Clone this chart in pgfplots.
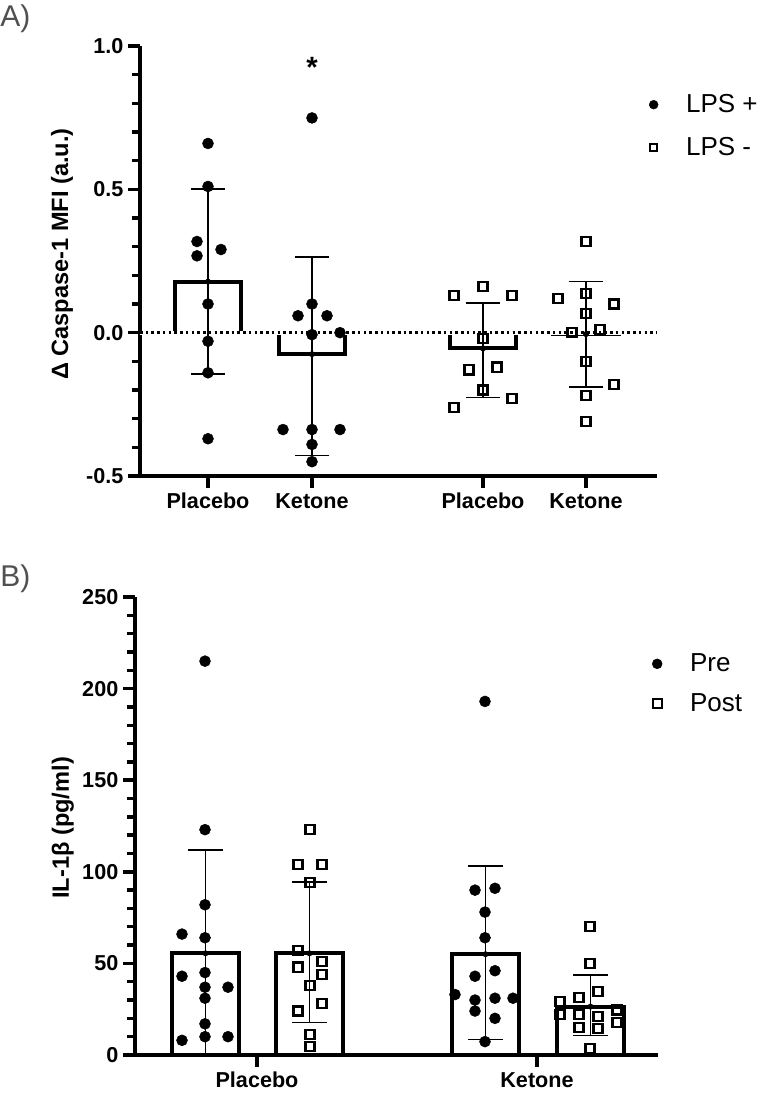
\documentclass[border=0pt]{standalone}
\usepackage{fontspec}
\setmainfont{Liberation Sans}
\usepackage{pgfplots}
\usepackage{pgfplotstable}
\pgfplotsset{compat=1.18}
\definecolor{lettergrey}{RGB}{80,80,80}

% ---------------- Panel A data ----------------
\pgfplotstableread{
x y
208 0.66
208 0.51
197 0.318
197 0.268
221 0.29
208 0.10
208 -0.03
208 -0.14
208 -0.37
312 0.749
312 0.10
298 0.059
327 0.059
312 -0.007
340 0.0
283 -0.338
312 -0.338
340 -0.338
312 -0.39
312 -0.45
}\Aplus
\pgfplotstableread{
x y
454 0.13
483 0.16
512 0.13
483 -0.02
469 -0.13
497 -0.12
483 -0.20
512 -0.23
454 -0.26
586 0.318
558 0.12
586 0.138
614 0.10
586 0.068
572 0.0
600 0.01
586 -0.10
614 -0.18
586 -0.22
586 -0.31
}\Aminus
\pgfplotstableread{
x y ep em
208 0.178 0.323 0.323
312 -0.075 0.339 0.353
483 -0.055 0.158 0.172
586 -0.005 0.183 0.185
}\Abars

% ---------------- Panel B data ----------------
\pgfplotstableread{
x y
205 215
205 123
205 82
182 66
205 64
182 43
205 45
205 37
228 37
205 31
205 17
205 10
182 8
228 10
485 193
475 90
495 91
485 78
485 64
475 43
495 46
455 33
475 30
495 31
513 31
475 24
495 20
485 7.3
}\Bpre
\pgfplotstableread{
x y
310 123
298 104
322 104
310 94
298 57
298 48
322 51
322 44
310 38
322 28
298 24
310 11
310 4.5
590 70
590 50
560 29
560 22
579 31.5
579 22
579 15
598 34.6
598 21
598 14.6
617 24.6
617 17.6
590 3.6
}\Bpost
\pgfplotstableread{
x y ep em
205.5 55.5 56.5 55.5
309.5 55.5 39 37.7
485.5 55 48.2 46.4
590.5 26.4 17.3 15.9
}\Bbars

\pgfplotsset{
  gpstyle/.style={
    scale only axis,
    clip=false,
    enlargelimits=false,
    axis x line=bottom,
    axis y line=left,
    axis line style={-, line width=3pt, black},
    tick align=outside,
    tick style={line width=2.6pt, black},
    major tick style={line width=2.6pt, black},
    minor tick style={line width=2.6pt, black},
    major tick length=9pt,
    minor tick length=6pt,
    xtick pos=bottom, ytick pos=left,
    ticklabel style={font=\fontsize{16.2}{18}\selectfont\bfseries},
    xticklabel style={text height=12pt, text depth=3pt},
    ylabel style={font=\fontsize{17.7}{19}\selectfont\bfseries},
    legend style={draw=none, fill=none, font=\fontsize{19.5}{21}\selectfont,
      row sep=13pt, /tikz/every odd column/.append style={column sep=19pt}},
    legend cell align=left,
  },
  dotmark/.style={only marks, mark=*, mark size=4.1pt, black, mark options={fill=black}},
  sqmark/.style={only marks, mark=square, mark size=3.4pt, black, mark options={line width=1.6pt, fill=none}},
  barsty/.style={ybar, bar width=#1, fill=white, draw=black, line width=3pt},
  errsty/.style={only marks, mark=none,
    error bars/.cd, y dir=both, y explicit,
    error bar style={line width=1.1pt, black, solid},
    error mark options={rotate=90, line width=1.1pt, mark size=13.1pt, black}},
}

\begin{document}
\begin{tikzpicture}
\useasboundingbox (0,0) rectangle (570pt,819.75pt);

\node[anchor=west, text=lettergrey, font=\fontsize{22.5}{24}\selectfont, inner sep=0pt] at (0pt,805.5pt) {A)};
\node[anchor=west, text=lettergrey, font=\fontsize{22.5}{24}\selectfont, inner sep=0pt] at (0pt,385.5pt) {B)};

% ================= Panel A =================
\begin{axis}[gpstyle,
  at={(105pt,462.75pt)}, anchor=south west,
  width=387.75pt, height=322.5pt,
  xmin=140, xmax=657, ymin=-0.5, ymax=1.0,
  xtick={208,312,483,586},
  xticklabels={Placebo,Ketone,Placebo,Ketone},
  ytick={-0.5,0,0.5,1.0},
  yticklabels={-0.5,0.0,0.5,1.0},
  minor y tick num=4,
  ylabel={Δ Caspase-1 MFI (a.u.)},
  ylabel style={at={(axis description cs:-0.151,0.516)}, anchor=center},
  legend style={at={(axis cs:645,0.85)}, anchor=north west},
]
\addlegendimage{only marks, mark=*, mark size=3.3pt, black}
\addlegendentry{LPS +}
\addlegendimage{only marks, mark=square, mark size=2.8pt, black, mark options={line width=1.4pt}}
\addlegendentry{LPS -}
\addplot[forget plot, barsty=49.5pt] table[x=x, y=y] {\Abars};
\addplot[forget plot, white, line width=3.2pt] coordinates {(140,0) (657,0)};
\addplot[forget plot, black, line width=1.9pt, dash pattern=on 1.9pt off 2.4pt] coordinates {(140,0) (657,0)};
\addplot[forget plot, errsty] table[x=x, y=y, y error plus=ep, y error minus=em] {\Abars};
\addplot[forget plot, dotmark] table[x=x, y=y] {\Aplus};
\addplot[forget plot, sqmark] table[x=x, y=y] {\Aminus};
\node[font=\fontsize{22}{24}\selectfont\bfseries] at (axis cs:312,0.925) {*};
\end{axis}

% ================= Panel B =================
\begin{axis}[gpstyle,
  at={(101.25pt,28.5pt)}, anchor=south west,
  width=392.25pt, height=343.5pt,
  xmin=135, xmax=658, ymin=0, ymax=250,
  xtick={257,537},
  xticklabels={Placebo,Ketone},
  ytick={0,50,100,150,200,250},
  yticklabels={0,50,100,150,200,250},
  minor y tick num=4,
  ylabel={IL-1β (pg/ml)},
  ylabel style={at={(axis description cs:-0.138,0.496)}, anchor=center},
  legend style={at={(axis cs:648,222)}, anchor=north west, row sep=11pt},
]
\addlegendimage{only marks, mark=*, mark size=3.7pt, black}
\addlegendentry{Pre}
\addlegendimage{only marks, mark=square, mark size=3.4pt, black, mark options={line width=1.5pt}}
\addlegendentry{Post}
\addplot[forget plot, barsty=50.25pt] table[x=x, y=y] {\Bbars};
\addplot[forget plot, errsty] table[x=x, y=y, y error plus=ep, y error minus=em] {\Bbars};
\addplot[forget plot, dotmark] table[x=x, y=y] {\Bpre};
\addplot[forget plot, sqmark] table[x=x, y=y] {\Bpost};
\end{axis}
\end{tikzpicture}
\end{document}
